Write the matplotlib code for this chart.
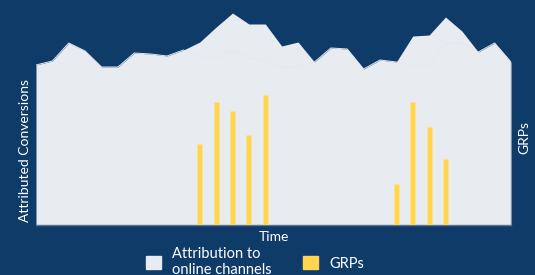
import matplotlib.pyplot as plt
import numpy as np

plt.rcParams['font.family'] = ['Lato', 'DejaVu Sans']

BG = '#0f3b68'
AREA = '#e8ebf0'
YELLOW = '#ffd54f'

# attributed conversions per period
conversions = [160, 164, 182, 174, 158, 158, 172, 171, 169, 175,
               183, 198, 212, 201, 201, 179, 183, 163, 177, 176,
               156, 165, 163, 189, 190, 208, 194, 173, 182, 163]
# faint second series visible inside the area
conversions_alt = [160, 164, 182, 174, 158, 158, 172, 171, 169, 175,
                   168, 167, 175, 167, 165, 158, 158, 163, 177, 176,
                   156, 165, 163, 159, 160, 182, 182, 173, 182, 163]
grp_periods = [10, 11, 12, 13, 14, 22, 23, 24, 25]
grps = [81, 123, 114, 90, 130, 41, 123, 98, 66]

x = np.arange(len(conversions))

fig = plt.figure(figsize=(5.35, 2.75), dpi=100, facecolor=BG)
ax = fig.add_axes([36 / 535, 50 / 275, 475 / 535, 225 / 275])
ax.set_facecolor(BG)

ax.fill_between(x, 0, conversions, color=AREA, lw=0, zorder=1)
ax.plot(x, conversions_alt, color='#e5e8ee', lw=0.7, zorder=2)
ax.plot([x[-1], x[-1]], [0, conversions[-1]], color='#7d93b0', lw=1, zorder=3)
ax.set_xlim(0, len(conversions) - 1)
ax.set_ylim(0, 225)
ax.set_xticks([])
ax.set_yticks([])
for s in ['top', 'right', 'left']:
    ax.spines[s].set_visible(False)
ax.spines['bottom'].set_color('#5b7494')
ax.spines['bottom'].set_linewidth(1)
ax.set_xlabel('Time', color='white', fontsize=10)
ax.xaxis.set_label_coords(0.5, -0.025)
ax.set_ylabel('Attributed Conversions', color='white', fontsize=10)
ax.yaxis.set_label_coords(-0.01, 0.33)

ax2 = ax.twinx()
ax2.bar(grp_periods, grps, width=0.3, color=YELLOW, edgecolor='#ffe38a', lw=0.5, zorder=4)
ax2.set_ylim(0, 225)
ax2.set_yticks([])
for s in ['top', 'right', 'left', 'bottom']:
    ax2.spines[s].set_visible(False)
ax2.set_ylabel('GRPs', color='white', fontsize=10)
ax2.yaxis.set_label_coords(1.015, 0.39)

handles = [plt.Rectangle((0, 0), 1, 1, color=AREA), plt.Rectangle((0, 0), 1, 1, color=YELLOW)]
leg = fig.legend(handles, ['Attribution to\nonline channels', 'GRPs'], ncol=2,
                 loc='center left', bbox_to_anchor=(133 / 535, 1 - 262 / 275),
                 frameon=False, fontsize=10.5, labelcolor='white',
                 handlelength=1.0, handleheight=1.0, handletextpad=0.75,
                 columnspacing=2.2)
for t in leg.get_texts():
    t.set_linespacing(1.15)

fig.savefig('out.png', dpi=100, facecolor=BG)
